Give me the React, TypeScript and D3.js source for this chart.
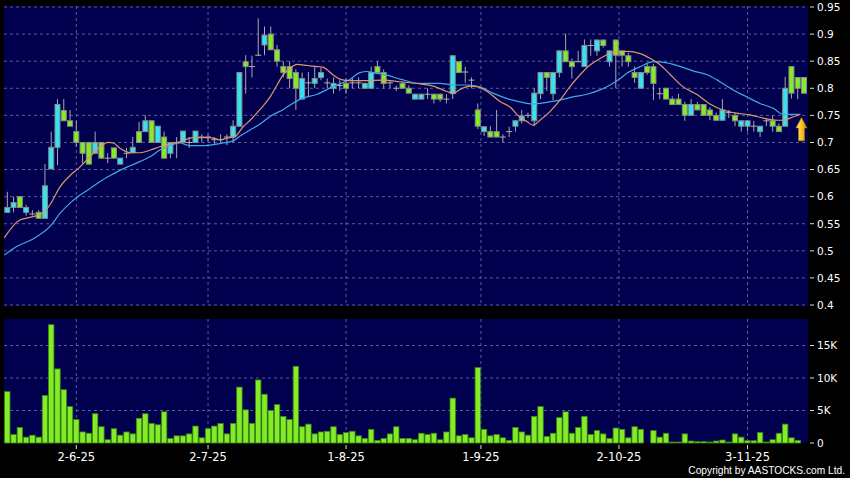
import React from 'react';
import * as d3 from 'd3';

const W = 850;
const H = 478;

// OHLC per trading day (index 0..127)
const opens = [
  0.571, 0.58, 0.6, 0.571, 0.568, 0.571, 0.56, 0.651, 0.691, 0.759,
  0.74, 0.72, 0.7, 0.7, 0.68, 0.7, 0.671, 0.69, 0.66, 0.68,
  0.681, 0.72, 0.72, 0.74, 0.7, 0.71, 0.68, 0.7, 0.7, 0.7,
  0.7, 0.71, 0.71, 0.705, 0.705, 0.71, 0.71, 0.73, 0.849, 0.84,
  0.861, 0.88, 0.9, 0.871, 0.84, 0.84, 0.829, 0.78, 0.81, 0.809,
  0.82, 0.81, 0.8, 0.805, 0.809, 0.81, 0.81, 0.8, 0.8, 0.84,
  0.829, 0.81, 0.8, 0.809, 0.8, 0.78, 0.78, 0.789, 0.789, 0.789,
  0.78, 0.79, 0.849, 0.83, 0.815, 0.76, 0.72, 0.72, 0.72, 0.71,
  0.72, 0.73, 0.74, 0.75, 0.74, 0.79, 0.829, 0.79, 0.829, 0.869,
  0.849, 0.849, 0.84, 0.879, 0.869, 0.889, 0.849, 0.889, 0.869, 0.86,
  0.829, 0.8, 0.84, 0.84, 0.79, 0.8, 0.78, 0.78, 0.77, 0.75,
  0.77, 0.77, 0.76, 0.75, 0.741, 0.755, 0.75, 0.73, 0.73, 0.73,
  0.72, 0.74, 0.74, 0.73, 0.73, 0.84, 0.82, 0.82,
];
const highs = [
  0.609, 0.6, 0.6, 0.585, 0.575, 0.575, 0.66, 0.72, 0.78, 0.78,
  0.76, 0.74, 0.7, 0.7, 0.72, 0.7, 0.68, 0.69, 0.671, 0.69,
  0.71, 0.738, 0.75, 0.74, 0.73, 0.72, 0.7, 0.71, 0.721, 0.71,
  0.721, 0.715, 0.715, 0.71, 0.715, 0.715, 0.741, 0.83, 0.861, 0.86,
  0.929, 0.914, 0.914, 0.88, 0.85, 0.85, 0.835, 0.829, 0.83, 0.84,
  0.839, 0.818, 0.82, 0.815, 0.818, 0.82, 0.82, 0.81, 0.84, 0.85,
  0.835, 0.815, 0.805, 0.812, 0.805, 0.79, 0.79, 0.8, 0.79, 0.79,
  0.789, 0.86, 0.85, 0.84, 0.82, 0.772, 0.73, 0.73, 0.76, 0.715,
  0.729, 0.74, 0.76, 0.755, 0.8, 0.83, 0.83, 0.83, 0.87, 0.901,
  0.855, 0.869, 0.89, 0.89, 0.89, 0.89, 0.87, 0.89, 0.87, 0.865,
  0.84, 0.83, 0.845, 0.845, 0.8, 0.8, 0.785, 0.79, 0.775, 0.78,
  0.775, 0.77, 0.765, 0.755, 0.78, 0.76, 0.755, 0.74, 0.74, 0.74,
  0.73, 0.745, 0.75, 0.735, 0.821, 0.84, 0.82, 0.82,
];
const lows = [
  0.571, 0.571, 0.58, 0.565, 0.565, 0.56, 0.56, 0.651, 0.658, 0.74,
  0.73, 0.692, 0.661, 0.66, 0.68, 0.67, 0.662, 0.671, 0.66, 0.671,
  0.681, 0.7, 0.72, 0.7, 0.7, 0.671, 0.671, 0.671, 0.7, 0.69,
  0.7, 0.7, 0.7, 0.695, 0.7, 0.695, 0.7, 0.73, 0.79, 0.82,
  0.86, 0.861, 0.871, 0.84, 0.82, 0.8, 0.76, 0.78, 0.785, 0.8,
  0.815, 0.8, 0.79, 0.795, 0.79, 0.8, 0.8, 0.8, 0.8, 0.829,
  0.8, 0.8, 0.795, 0.8, 0.79, 0.78, 0.78, 0.78, 0.772, 0.775,
  0.772, 0.78, 0.829, 0.81, 0.8, 0.725, 0.712, 0.71, 0.71, 0.7,
  0.71, 0.72, 0.735, 0.745, 0.73, 0.78, 0.795, 0.778, 0.82, 0.849,
  0.818, 0.849, 0.84, 0.86, 0.86, 0.875, 0.84, 0.8, 0.84, 0.84,
  0.81, 0.8, 0.825, 0.778, 0.78, 0.78, 0.77, 0.77, 0.74, 0.75,
  0.76, 0.75, 0.741, 0.74, 0.74, 0.745, 0.73, 0.72, 0.72, 0.72,
  0.71, 0.73, 0.72, 0.72, 0.73, 0.781, 0.78, 0.79,
];
const closes = [
  0.58, 0.589, 0.58, 0.58, 0.568, 0.56, 0.62, 0.691, 0.77, 0.74,
  0.73, 0.7, 0.68, 0.66, 0.7, 0.671, 0.671, 0.671, 0.671, 0.68,
  0.691, 0.7, 0.74, 0.7, 0.73, 0.671, 0.7, 0.7, 0.721, 0.7,
  0.721, 0.71, 0.71, 0.705, 0.705, 0.71, 0.73, 0.829, 0.84, 0.84,
  0.861, 0.898, 0.871, 0.85, 0.829, 0.818, 0.8, 0.818, 0.81, 0.818,
  0.829, 0.81, 0.809, 0.805, 0.8, 0.81, 0.81, 0.809, 0.829, 0.829,
  0.809, 0.81, 0.8, 0.8, 0.791, 0.789, 0.789, 0.789, 0.78, 0.78,
  0.78, 0.86, 0.829, 0.83, 0.815, 0.73, 0.729, 0.71, 0.71, 0.71,
  0.72, 0.74, 0.749, 0.75, 0.791, 0.829, 0.82, 0.829, 0.869, 0.849,
  0.84, 0.849, 0.879, 0.879, 0.889, 0.879, 0.869, 0.861, 0.861, 0.849,
  0.82, 0.829, 0.829, 0.809, 0.79, 0.78, 0.77, 0.77, 0.75, 0.77,
  0.76, 0.75, 0.75, 0.741, 0.76, 0.755, 0.74, 0.74, 0.74, 0.73,
  0.73, 0.74, 0.73, 0.72, 0.8, 0.791, 0.8, 0.791,
];
// volume in thousands of shares
const volumes = [
  7.9, 1.3, 2.4, 0.9, 1.2, 0.9, 7.3, 18.2, 11.4, 8.2,
  5.6, 3.6, 1.7, 1.5, 4.5, 2.5, 0.5, 2.2, 1.2, 1.7,
  1.4, 3.8, 4.5, 3.0, 2.8, 4.8, 0.7, 1.1, 1.1, 1.4,
  2.6, 0.8, 2.2, 2.6, 3.0, 1.4, 3.0, 8.6, 5.1, 3.0,
  9.7, 7.5, 5.0, 5.9, 4.1, 3.6, 11.8, 2.5, 2.9, 1.4,
  1.7, 1.8, 2.5, 1.3, 1.6, 1.8, 1.1, 0.7, 2.1, 0.4,
  0.7, 1.4, 2.5, 0.7, 0.7, 0.5, 1.5, 1.3, 1.5, 0.5,
  1.7, 6.9, 1.1, 1.3, 0.8, 11.6, 2.1, 1.1, 1.3, 0.8,
  0.4, 2.4, 1.7, 1.2, 4.1, 5.6, 1.0, 1.5, 3.9, 4.8,
  1.5, 2.4, 4.1, 1.3, 1.9, 1.4, 0.7, 2.3, 2.1, 0.8,
  2.5, 2.1, 0, 1.9, 0.9, 1.5, 0.15, 0.15, 1.4, 0.3,
  0.2, 0.2, 0.15, 0.3, 0.45, 0.15, 1.4, 0.9, 0.35, 0.35,
  1.6, 0.15, 0.5, 1.5, 2.9, 0.8, 0.4, 0,
];

const priceTicks = [0.4, 0.45, 0.5, 0.55, 0.6, 0.65, 0.7, 0.75, 0.8, 0.85, 0.9, 0.95];
const priceTickLabels = ['0.4', '0.45', '0.5', '0.55', '0.6', '0.65', '0.7', '0.75', '0.8', '0.85', '0.9', '0.95'];
const volTicks = [0, 5, 10, 15];
const volTickLabels = ['0', '5K', '10K', '15K'];
const dateLabels = ['2-6-25', '2-7-25', '1-8-25', '1-9-25', '2-10-25', '3-11-25'];
const dateIdx = [11, 32, 54, 75.5, 97.5, 118];

// moving averages (index, price)
const maShortIdx = [-0.5, 2, 4.1, 5.7, 6.8, 8.4, 10, 11.6, 13.2, 14.8, 16.1, 16.9, 18, 19.6, 21.2, 22.8, 24.3, 25.9, 27.5, 29.6, 32.3, 33.9, 35, 36.3, 37.6, 38.7, 40.3, 41.9, 43, 44, 45.1, 46.2, 47.8, 49.4, 50.3, 51.9, 53, 54.6, 57.4, 59.9, 62.6, 65.8, 67.9, 70.1, 71.1, 72.2, 73.8, 74.9, 76.5, 78.6, 80.2, 81.3, 82.9, 83.8, 84.9, 86.5, 88.1, 89.7, 91.3, 92.9, 94.5, 96.6, 98.8, 100.9, 102.5, 104.1, 105.7, 107.7, 110, 112, 114.1, 116.3, 118.4, 120.5, 122.7, 123.7, 124.8, 126.4];
const maShortVal = [0.524, 0.557, 0.563, 0.57, 0.585, 0.618, 0.639, 0.655, 0.674, 0.692, 0.7, 0.699, 0.689, 0.681, 0.681, 0.686, 0.692, 0.697, 0.701, 0.709, 0.709, 0.705, 0.708, 0.711, 0.729, 0.741, 0.761, 0.784, 0.806, 0.825, 0.837, 0.844, 0.842, 0.84, 0.839, 0.825, 0.817, 0.814, 0.814, 0.815, 0.812, 0.808, 0.804, 0.794, 0.791, 0.798, 0.804, 0.803, 0.794, 0.775, 0.765, 0.751, 0.738, 0.732, 0.741, 0.757, 0.778, 0.803, 0.825, 0.843, 0.855, 0.866, 0.868, 0.864, 0.855, 0.843, 0.825, 0.803, 0.788, 0.771, 0.76, 0.754, 0.751, 0.745, 0.741, 0.741, 0.745, 0.752];
const maLongIdx = [-0.5, 1.5, 4.1, 6.8, 8.4, 10, 11.6, 13.2, 14.8, 16.4, 18, 19.6, 21.2, 22.8, 24.3, 25.9, 27.5, 29.1, 30.7, 32.3, 33.9, 36, 37.1, 38.7, 40.3, 41.9, 44, 46.7, 49.4, 51.9, 54.6, 56.2, 57.4, 58.6, 59.9, 62.6, 65.8, 69, 71.1, 73.3, 75.4, 77.4, 79.7, 81.7, 83.8, 86, 88.1, 90.2, 92.4, 94.5, 96.1, 97.7, 98.8, 100.9, 103, 105.2, 107.3, 109.3, 111.6, 113.6, 115.7, 117.9, 120, 122.1, 123.7, 124.8, 126.4];
const maLongVal = [0.492, 0.508, 0.522, 0.545, 0.569, 0.588, 0.603, 0.615, 0.628, 0.639, 0.649, 0.657, 0.665, 0.674, 0.686, 0.694, 0.699, 0.694, 0.694, 0.695, 0.698, 0.703, 0.712, 0.723, 0.734, 0.748, 0.761, 0.78, 0.789, 0.803, 0.816, 0.829, 0.831, 0.828, 0.826, 0.817, 0.809, 0.809, 0.806, 0.806, 0.802, 0.791, 0.781, 0.775, 0.771, 0.774, 0.778, 0.784, 0.789, 0.797, 0.806, 0.818, 0.828, 0.84, 0.849, 0.847, 0.84, 0.832, 0.825, 0.812, 0.797, 0.784, 0.772, 0.763, 0.752, 0.752, 0.752];

const arrowIdx = 126.6;
const arrowTop = 0.746;
const arrowBottom = 0.703;

const CYAN = '#33e4f0';
const GREEN = '#84ec26';
const GRID = '#5a5a9c';
const PANEL = '#00004e';

export default function App() {
  const n = closes.length;
  const x = d3.scaleLinear().domain([0, n - 1]).range([7.3, 804]);
  const yP = d3.scaleLinear().domain([0.4, 0.95]).range([305, 7]);
  const yV = d3.scaleLinear().domain([0, 19.08]).range([443, 319]);
  const bw = 5;

  const lineShort = d3
    .line<number>()
    .x((_, i) => x(maShortIdx[i]))
    .y((d) => yP(d))
    .curve(d3.curveMonotoneX);
  const lineLong = d3
    .line<number>()
    .x((_, i) => x(maLongIdx[i]))
    .y((d) => yP(d))
    .curve(d3.curveMonotoneX);

  const ax = x(arrowIdx);
  const at = yP(arrowTop);
  const ab = yP(arrowBottom);
  const headH = (ab - at) * 0.45;
  const arrowPath = `M${ax},${at} L${ax + 5.5},${at + headH} L${ax + 3},${at + headH} L${ax + 3},${ab} L${ax - 3},${ab} L${ax - 3},${at + headH} L${ax - 5.5},${at + headH} Z`;

  const font = 'DejaVu Sans, Verdana, sans-serif';

  return (
    <svg
      width={W}
      height={H}
      style={{ position: 'absolute', left: 0, top: 0, background: '#000' }}
    >
      <defs>
        <clipPath id="pclip">
          <rect x={4} y={6} width={804} height={300} />
        </clipPath>
        <linearGradient id="arrowGrad" x1="0" x2="1" y1="0" y2="0">
          <stop offset="0%" stopColor="#fff08a" />
          <stop offset="55%" stopColor="#f5c020" />
          <stop offset="100%" stopColor="#c88400" />
        </linearGradient>
      </defs>
      <rect x={0} y={0} width={W} height={H} fill="#000" />

      {/* price panel */}
      <rect x={4} y={6} width={804} height={300} fill={PANEL} />
      {priceTicks.map((t) => (
        <line key={'pg' + t} x1={4} x2={808} y1={yP(t)} y2={yP(t)} stroke={GRID} strokeDasharray="3,3" />
      ))}
      {dateIdx.map((d) => (
        <line key={'vg' + d} x1={x(d)} x2={x(d)} y1={6} y2={306} stroke={GRID} strokeDasharray="3,3" />
      ))}

      <g clipPath="url(#pclip)">
        {closes.map((c, i) => {
          const o = opens[i];
          const cx = x(i);
          const isUp = c > o;
          const isDoji = c === o;
          const top = yP(Math.max(o, c));
          const bot = yP(Math.min(o, c));
          return (
            <g key={'c' + i}>
              <line x1={cx} x2={cx} y1={yP(highs[i])} y2={yP(lows[i])} stroke="#a8a8a8" strokeWidth={1} />
              {isDoji ? (
                <line x1={cx - bw / 2 - 0.5} x2={cx + bw / 2 + 0.5} y1={top} y2={top} stroke="#b0b0b0" strokeWidth={1} />
              ) : (
                <rect
                  x={cx - bw / 2}
                  y={top}
                  width={bw}
                  height={Math.max(bot - top, 1)}
                  fill={isUp ? CYAN : GREEN}
                  stroke="#8a8a8a"
                  strokeWidth={1}
                />
              )}
            </g>
          );
        })}
        <path d={lineLong(maLongVal) || ''} fill="none" stroke="#3fa9e6" strokeWidth={1.2} />
        <path d={lineShort(maShortVal) || ''} fill="none" stroke="#e0946a" strokeWidth={1.2} />
        <path d={arrowPath} fill="url(#arrowGrad)" stroke="#b07800" strokeWidth={0.6} />
      </g>

      {/* price axis */}
      {priceTicks.map((t, i) => (
        <g key={'pt' + t}>
          <line x1={810} x2={814} y1={yP(t)} y2={yP(t)} stroke="#ddd" />
          <text x={817} y={yP(t)} dy="0.36em" fill="#fff" fontSize={10.5} fontFamily={font}>
            {priceTickLabels[i]}
          </text>
        </g>
      ))}

      {/* volume panel */}
      <rect x={4} y={319} width={804} height={124} fill={PANEL} />
      {volTicks.slice(1).map((t) => (
        <line key={'vgh' + t} x1={4} x2={808} y1={yV(t)} y2={yV(t)} stroke={GRID} strokeDasharray="3,3" />
      ))}
      {dateIdx.map((d) => (
        <line key={'vgv' + d} x1={x(d)} x2={x(d)} y1={319} y2={443} stroke={GRID} strokeDasharray="3,3" />
      ))}
      {volumes.map((v, i) =>
        v > 0 ? (
          <rect
            key={'v' + i}
            x={x(i) - 2.7}
            y={yV(v)}
            width={5.4}
            height={Math.max(yV(0) - yV(v), 0.8)}
            fill={GREEN}
            stroke="#3d8a10"
            strokeWidth={0.8}
          />
        ) : null
      )}
      {volTicks.map((t, i) => (
        <g key={'vt' + t}>
          <line x1={810} x2={814} y1={yV(t)} y2={yV(t)} stroke="#ddd" />
          <text x={817} y={yV(t)} dy="0.36em" fill="#fff" fontSize={10.5} fontFamily={font}>
            {volTickLabels[i]}
          </text>
        </g>
      ))}

      {/* date axis */}
      {dateIdx.map((d, i) => (
        <g key={'dt' + d}>
          <line x1={x(d)} x2={x(d)} y1={445} y2={449} stroke="#ddd" />
          <text x={x(d)} y={461} textAnchor="middle" fill="#fff" fontSize={11.5} fontFamily={font}>
            {dateLabels[i]}
          </text>
        </g>
      ))}

      <text
        x={845}
        y={473.5}
        textAnchor="end"
        fill="#fff"
        fontSize={10.2}
        fontFamily="Liberation Sans, Arial, sans-serif"
      >
        Copyright by AASTOCKS.com Ltd.
      </text>
    </svg>
  );
}
